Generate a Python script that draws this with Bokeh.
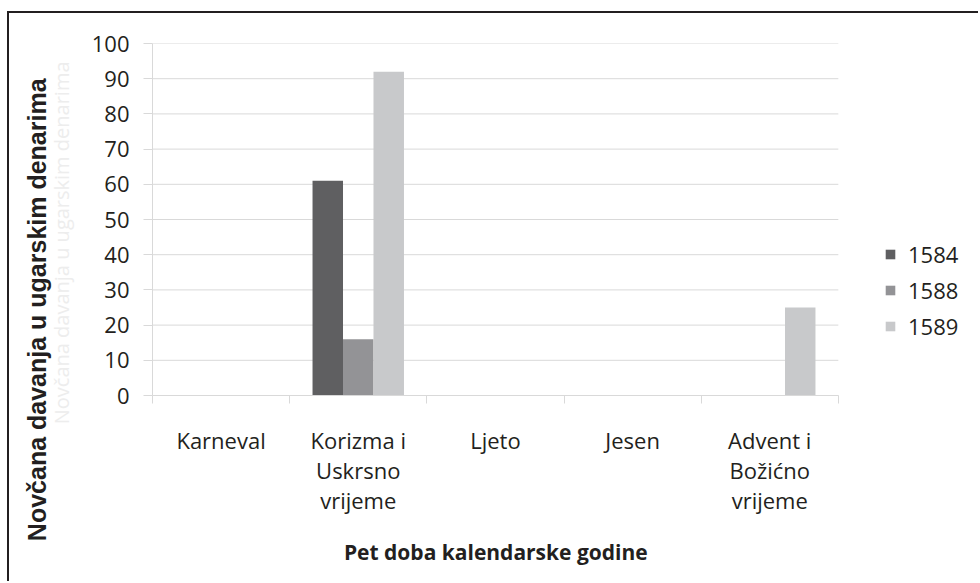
import math
from bokeh.plotting import figure
from bokeh.models import (ColumnDataSource, FactorRange, Range1d, LinearAxis, CategoricalAxis,
                          FixedTicker, Legend, LegendItem, CustomJSTickFormatter)
from bokeh.transform import dodge
from bokeh.embed import file_html
from bokeh.resources import INLINE

categories = ["Karneval", "Korizma i Uskrsno vrijeme", "Ljeto", "Jesen", "Advent i Božićno vrijeme"]
tick_labels = ["Karneval", "Korizma i\nUskrsno\nvrijeme", "Ljeto", "Jesen", "Advent i\nBožićno\nvrijeme"]
years = ["1584", "1588", "1589"]
v1584 = [0, 61, 0, 0, 0]
v1588 = [0, 16, 0, 0, 0]
v1589 = [0, 92, 0, 0, 25]
y_ticks = [0, 10, 20, 30, 40, 50, 60, 70, 80, 90, 100]
y_title = "Novčana davanja u ugarskim denarima"
x_title = "Pet doba kalendarske godine"

colors = ["#5f5f61", "#939396", "#c8c9cb"]
TXT = "#231f20"
GRID = "#d9d9d9"
FONT = "Open Sans"
NB = "\u00a0"
LEGEND_SLOT = " "  # empty slot on the right of the categories that holds the legend

source = ColumnDataSource(dict(cat=categories, v1584=v1584, v1588=v1588, v1589=v1589))

p = figure(x_range=FactorRange(*categories, LEGEND_SLOT), y_range=Range1d(0, 100),
           width=971, height=570, output_backend="svg", toolbar_location=None,
           x_axis_location=None, y_axis_location="left",
           min_border_left=143, min_border_right=5, min_border_top=30, min_border_bottom=188)
p.outline_line_color = None
p.styles = {"border-left": "2px solid #231f20", "border-top": "2px solid #231f20",
            "margin-top": "11px", "margin-left": "7px"}

for g in p.grid:
    g.visible = False

n = len(categories)

# horizontal gridlines spanning only the category area
p.segment(x0=[0] * len(y_ticks), x1=[n] * len(y_ticks), y0=y_ticks, y1=y_ticks,
          line_color=GRID, line_width=1)

# y axis
p.yaxis.ticker = FixedTicker(ticks=y_ticks)
p.yaxis.axis_line_color = GRID
p.yaxis.major_tick_line_color = GRID
p.yaxis.major_tick_out = 9
p.yaxis.major_tick_in = 0
p.yaxis.minor_tick_line_color = None
p.yaxis.major_label_standoff = 14
p.yaxis.major_label_text_font = FONT
p.yaxis.major_label_text_font_size = "22px"
p.yaxis.major_label_text_color = TXT

# faint ghost copy of the y title, then the bold y title (label-only axes)
ghost_axis = LinearAxis(ticker=FixedTicker(ticks=[]), axis_line_color=None, major_tick_line_color=None,
                        minor_tick_line_color=None, major_label_text_font_size="1px",
                        axis_label=y_title + NB * 9, axis_label_standoff=14,
                        axis_label_text_font=FONT, axis_label_text_font_size="20px",
                        axis_label_text_font_style="normal", axis_label_text_color="#ededed")
p.add_layout(ghost_axis, "left")
title_axis = LinearAxis(ticker=FixedTicker(ticks=[]), axis_line_color=None, major_tick_line_color=None,
                        minor_tick_line_color=None, major_label_text_font_size="1px",
                        axis_label=y_title + NB * 26, axis_label_standoff=-6,
                        axis_label_text_font="Liberation Sans", axis_label_text_font_size="25px",
                        axis_label_text_font_style="bold", axis_label_text_color=TXT)
p.add_layout(title_axis, "left")

# category boundary ticks (synthetic coordinates of the factor range)
bounds = list(range(n + 1))
tick_axis = LinearAxis(ticker=FixedTicker(ticks=bounds), bounds=(0, n),
                       major_tick_out=8, major_tick_in=0, minor_tick_out=0, minor_tick_in=0,
                       axis_line_color=GRID, major_tick_line_color=GRID,
                       major_label_overrides={i: "" for i in bounds},
                       major_label_standoff=0, major_label_text_font_size="1px")
p.add_layout(tick_axis, "below")

fmt = CustomJSTickFormatter(args=dict(cats=categories, labs=tick_labels),
                            code="const i = cats.indexOf(tick); return i >= 0 ? labs[i] : tick;")
cat_axis = CategoricalAxis(major_tick_out=0, major_tick_in=0, axis_line_color=None,
                           major_tick_line_color=None, minor_tick_line_color=None,
                           major_label_standoff=21, formatter=fmt,
                           major_label_text_font=FONT, major_label_text_font_size="22px",
                           major_label_text_color=TXT, major_label_text_line_height=1.0,
                           axis_label=x_title + NB * 25, axis_label_text_font=FONT,
                           axis_label_text_font_style="bold",
                           axis_label_text_font_size="21px", axis_label_text_color=TXT,
                           axis_label_standoff=20)
p.add_layout(cat_axis, "below")

# bars
w = 1 / 4.5
renderers = []
for i, (yr, col) in enumerate(zip(years, colors)):
    r = p.vbar(x=dodge("cat", (i - 1) * w, range=p.x_range), top="v" + yr, width=w,
               source=source, fill_color=col, line_color=None)
    renderers.append(r)

legend = Legend(items=[LegendItem(label=yr, renderers=[r]) for yr, r in zip(years, renderers)],
                location=(732, 54), border_line_color=None, background_fill_alpha=0,
                glyph_width=12, glyph_height=12, label_text_font=FONT, label_text_font_size="22px",
                label_text_color=TXT, spacing=6, padding=0, margin=0, label_standoff=12)
p.add_layout(legend, "center")

open("out.html", "w").write(file_html(p, INLINE))
